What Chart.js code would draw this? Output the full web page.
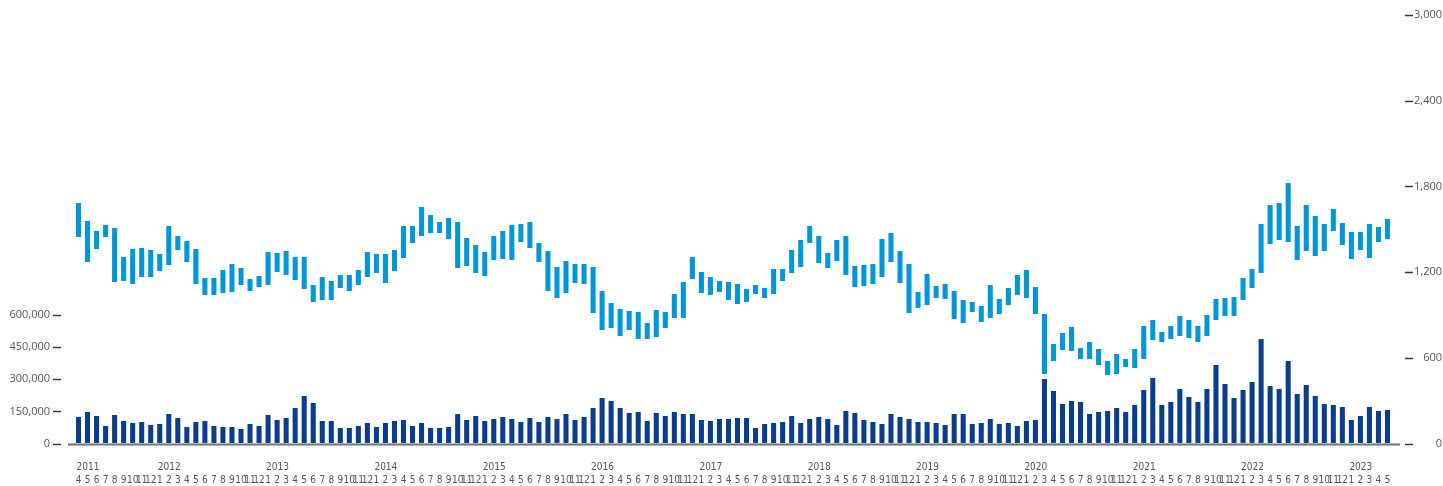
<!DOCTYPE html>
<html lang="en">
<head>
<meta charset="utf-8">
<title>Monthly share price range and trading volume</title>
<script src="https://cdn.jsdelivr.net/npm/chart.js@4.4.1/dist/chart.umd.min.js"></script>
<style>
  html, body { margin: 0; padding: 0; background: #fff; }
  #wrap { width: 1443px; height: 486px; }
</style>
</head>
<body>
<div id="wrap"><canvas id="chart" width="1443" height="486"></canvas></div>
<script>
/* monthly share price range (right axis) and trading volume (left axis), Apr 2011 - May 2023 */

var START_YEAR = 2011;
var START_MONTH = 4;

var PRICE_HIGH = [
  1683, 1557, 1487, 1529, 1508, 1305, 1361, 1368, 1354,
  1326, 1522, 1452, 1417, 1361, 1158, 1158, 1214, 1256, 1228, 1151, 1172,
  1340, 1333, 1347, 1305, 1305, 1109, 1165, 1137, 1179, 1179, 1214, 1340,
  1326, 1326, 1354, 1522, 1522, 1655, 1599, 1550, 1578, 1550, 1438, 1389,
  1340, 1452, 1487, 1529, 1536, 1550, 1403, 1347, 1235, 1277, 1256, 1256,
  1235, 1067, 983, 941, 927, 920, 843, 934, 920, 1046, 1130, 1305,
  1200, 1165, 1137, 1130, 1116, 1081, 1109, 1088, 1221, 1221, 1354, 1424,
  1522, 1452, 1333, 1424, 1452, 1242, 1249, 1256, 1431, 1473, 1347, 1256,
  1060, 1186, 1102, 1116, 1067, 1004, 990, 962, 1109, 1011, 1088, 1179,
  1214, 1095, 906, 696, 773, 815, 668, 710, 661, 577, 626, 591,
  661, 822, 864, 780, 822, 892, 864, 822, 899, 1011, 1018, 1025,
  1158, 1221, 1536, 1669, 1683, 1823, 1522, 1669, 1592, 1536, 1641, 1543,
  1480, 1480, 1536, 1515, 1571
];

var PRICE_LOW = [
  1445, 1270, 1361, 1445, 1130, 1137, 1116, 1165, 1165,
  1207, 1249, 1354, 1270, 1116, 1039, 1039, 1053, 1060, 1109, 1067, 1095,
  1109, 1200, 1179, 1144, 1081, 990, 1004, 1004, 1088, 1067, 1109, 1165,
  1193, 1123, 1207, 1298, 1403, 1452, 1473, 1473, 1431, 1228, 1242, 1193,
  1172, 1284, 1291, 1284, 1410, 1368, 1270, 1067, 1018, 1053, 1123, 1116,
  913, 794, 808, 752, 794, 731, 731, 745, 808, 878, 878, 1151,
  1053, 1039, 1060, 1004, 976, 990, 1046, 1018, 1046, 1137, 1193, 1235,
  1403, 1263, 1228, 1277, 1179, 1095, 1102, 1116, 1165, 1270, 1123, 913,
  948, 969, 1018, 1011, 871, 843, 920, 850, 878, 906, 969, 1039,
  1018, 906, 486, 577, 654, 647, 591, 591, 549, 479, 486, 535,
  528, 591, 724, 710, 731, 752, 738, 710, 752, 864, 892, 892,
  1004, 1088, 1193, 1396, 1424, 1410, 1284, 1347, 1312, 1347, 1487, 1389,
  1291, 1354, 1298, 1410, 1431
];

var VOLUME = [
  123700, 147000, 128300, 81700, 133000, 105000, 95700, 100300, 86300,
  91000, 137700, 119000, 77000, 100300, 105000, 81700, 77000, 77000, 67700, 91000, 81700,
  133000, 109700, 119000, 165700, 221700, 189000, 105000, 105000, 72300, 72300, 81700, 95700,
  77000, 95700, 105000, 109700, 81700, 95700, 72300, 72300, 77000, 137700, 109700, 128300,
  105000, 114300, 123700, 114300, 100300, 119000, 100300, 123700, 114300, 137700, 109700, 123700,
  165700, 212400, 198400, 165700, 142300, 147000, 105000, 142300, 128300, 147000, 137700, 137700,
  109700, 105000, 114300, 114300, 119000, 119000, 72300, 91000, 95700, 100300, 128300, 95700,
  114300, 123700, 114300, 86300, 151700, 142300, 109700, 100300, 91000, 137700, 123700, 114300,
  100300, 100300, 95700, 86300, 137700, 137700, 91000, 95700, 114300, 91000, 95700, 81700,
  105000, 109700, 301000, 245000, 184300, 198400, 193700, 137700, 147000, 151700, 165700, 147000,
  179700, 249700, 305700, 179700, 193700, 254400, 217000, 193700, 254400, 366400, 277700, 212400,
  249700, 287000, 487700, 268400, 254400, 385000, 231000, 273000, 221700, 184300, 179700, 170400,
  109700, 128300, 170400, 151700, 156300
];

var VOLUME_TICKS = [0, 150000, 300000, 450000, 600000];
var PRICE_TICKS = [0, 600, 1200, 1800, 2400, 3000];

var COLOR_PRICE = '#0096d8';
var COLOR_VOLUME = '#0a3d8c';
var TEXT_COLOR = '#555555';
var SMALL_FONT = '"Liberation Sans Narrow", "DejaVu Sans Condensed", "Open Sans", sans-serif';
var AXIS_FONT = '"Open Sans", "Noto Sans", sans-serif';

/* category labels: month number per bar, year shown over the first bar of each year */
var months = [];
var years = [];
(function () {
  var y = START_YEAR, m = START_MONTH;
  for (var i = 0; i < VOLUME.length; i++) {
    months.push(String(m));
    years.push((i === 0 || m === 1) ? String(y) : '');
    m++;
    if (m > 12) { m = 1; y++; }
  }
})();

function fmt(v) {
  return v.toLocaleString('en-US');
}

var ranges = PRICE_HIGH.map(function (h, i) { return [PRICE_LOW[i], h]; });

/* the reference keeps a gap between tick marks and plot, so the marks are drawn here */
var axisMarks = {
  id: 'axisMarks',
  afterDraw: function (chart) {
    var ctx = chart.ctx;
    var xs = chart.scales.x, yl = chart.scales.y, yr = chart.scales.y1;
    var base = yl.getPixelForValue(0);
    ctx.save();

    ctx.strokeStyle = '#707070';
    ctx.lineWidth = 2;
    ctx.beginPath();
    ctx.moveTo(xs.left - 6, base + 1);
    ctx.lineTo(xs.right + 8, base + 1);
    ctx.stroke();

    ctx.strokeStyle = '#3a3a3a';
    ctx.lineWidth = 1.4;
    ctx.beginPath();
    yl.ticks.forEach(function (t) {
      var py = Math.round(yl.getPixelForValue(t.value)) + 0.5;
      ctx.moveTo(yl.right - 21, py);
      ctx.lineTo(yl.right - 13, py);
    });
    yr.ticks.forEach(function (t) {
      var py = Math.round(yr.getPixelForValue(t.value)) + 0.5;
      ctx.moveTo(yr.left + 13, py);
      ctx.lineTo(yr.left + 21, py);
    });
    ctx.stroke();

    ctx.fillStyle = TEXT_COLOR;
    ctx.font = '10px ' + SMALL_FONT;
    ctx.textAlign = 'left';
    ctx.textBaseline = 'middle';
    years.forEach(function (yy, i) {
      if (!yy) return;
      ctx.fillText(yy, xs.getPixelForValue(i) - 2, 467);
    });
    ctx.restore();
  }
};

var hiddenTicks = {
  display: true,
  drawOnChartArea: false,
  drawTicks: true,
  tickLength: 21,
  tickColor: 'rgba(0,0,0,0)'
};

new Chart(document.getElementById('chart'), {
  type: 'bar',
  data: {
    labels: months,
    datasets: [
      {
        label: 'Volume',
        data: VOLUME,
        yAxisID: 'y',
        backgroundColor: COLOR_VOLUME,
        grouped: false,
        barPercentage: 0.56,
        categoryPercentage: 1,
        order: 2
      },
      {
        label: 'Price range',
        data: ranges,
        yAxisID: 'y1',
        backgroundColor: COLOR_PRICE,
        grouped: false,
        barPercentage: 0.56,
        categoryPercentage: 1,
        order: 1
      }
    ]
  },
  options: {
    responsive: false,
    animation: false,
    devicePixelRatio: 1,
    layout: { padding: { top: 15, right: 1, bottom: 0, left: 0 } },
    plugins: { legend: { display: false }, tooltip: { enabled: false } },
    scales: {
      x: {
        grid: { display: false, drawTicks: false },
        border: { display: false },
        ticks: {
          autoSkip: false,
          maxRotation: 0,
          minRotation: 0,
          padding: 31,
          color: TEXT_COLOR,
          font: { family: SMALL_FONT, size: 10 }
        },
        afterFit: function (s) { s.height = 42.5; }
      },
      y: {
        position: 'left',
        min: 0,
        max: 2000000,
        grid: hiddenTicks,
        border: { display: false },
        afterBuildTicks: function (s) {
          s.ticks = VOLUME_TICKS.map(function (v) { return { value: v }; });
        },
        ticks: {
          padding: 3,
          color: TEXT_COLOR,
          font: { family: AXIS_FONT, size: 11 },
          callback: function (v) { return fmt(v); }
        },
        afterFit: function (s) { s.width = 74; }
      },
      y1: {
        position: 'right',
        min: 0,
        max: 3000,
        grid: hiddenTicks,
        border: { display: false },
        afterBuildTicks: function (s) {
          s.ticks = PRICE_TICKS.map(function (v) { return { value: v }; });
        },
        ticks: {
          crossAlign: 'far',
          padding: 3,
          color: TEXT_COLOR,
          font: { family: AXIS_FONT, size: 11 },
          callback: function (v) { return fmt(v); }
        },
        afterFit: function (s) { s.width = 50; }
      }
    }
  },
  plugins: [axisMarks]
});
</script>
</body>
</html>
